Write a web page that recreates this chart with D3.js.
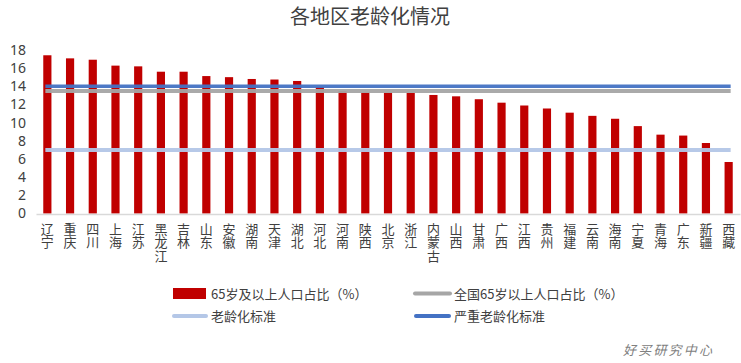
<!DOCTYPE html>
<html>
<head>
<meta charset="utf-8">
<script src="https://cdnjs.cloudflare.com/ajax/libs/d3/7.8.5/d3.min.js"></script>
<style>
  body { margin: 0; background: #fff; }
  text { font-family: "Noto Sans CJK SC", "Microsoft YaHei", sans-serif; }
</style>
</head>
<body>
<div id="chart"></div>
<script>
// Data (2020 census share of people aged 65+)
var provinces = ["辽宁", "重庆", "四川", "上海", "江苏", "黑龙江", "吉林", "山东", "安徽", "湖南",
    "天津", "湖北", "河北", "河南", "陕西", "北京", "浙江", "内蒙古", "山西", "甘肃", "广西",
    "江西", "贵州", "福建", "云南", "海南", "宁夏", "青海", "广东", "新疆", "西藏"];
var share65 = [17.42, 17.08, 16.93, 16.28, 16.20, 15.61, 15.61, 15.13, 15.01, 14.81,
    14.75, 14.59, 13.92, 13.49, 13.32, 13.30, 13.27, 13.05, 12.90, 12.58, 12.20,
    11.89, 11.56, 11.10, 10.75, 10.43, 9.62, 8.68, 8.58, 7.76, 5.67];
var nationalShare = 13.5;
var agingStandard = 7;
var severeStandard = 14;
var yTicks = [0, 2, 4, 6, 8, 10, 12, 14, 16, 18];

var svgWidth = 741;
var svgHeight = 363;

var svg = d3.select("#chart")
    .append("svg")
    .attr("width", svgWidth)
    .attr("height", svgHeight);

// Scales
var xScale = d3.scaleBand()
    .domain(provinces)
    .range([36, 740])
    .paddingInner(0.64)
    .paddingOuter(0.32);

var yScale = d3.scaleLinear()
    .domain([0, 18])
    .range([213.5, 50]);

// Title
svg.append("text")
    .attr("x", 370)
    .attr("y", 24)
    .attr("text-anchor", "middle")
    .attr("font-size", "20px")
    .attr("fill", "#404040")
    .text("各地区老龄化情况");

// Y axis (labels only)
var leftAxis = d3.axisLeft(yScale).tickValues(yTicks).tickSize(0).tickPadding(0);
var yAxisG = svg.append("g")
    .attr("transform", "translate(26, 0)")
    .call(leftAxis);
yAxisG.select(".domain").remove();
yAxisG.selectAll("text")
    .attr("font-size", "14px")
    .attr("fill", "#404040")
    .style("font-family", "'Noto Sans', 'DejaVu Sans', sans-serif");

// Bars
svg.selectAll(".bar")
    .data(share65)
    .enter()
    .append("rect")
    .attr("class", "bar")
    .attr("x", (d, i) => xScale(provinces[i]))
    .attr("y", d => yScale(d))
    .attr("width", xScale.bandwidth())
    .attr("height", d => yScale(0) - yScale(d))
    .attr("fill", "#c00000");

// X axis line
var bottomAxis = d3.axisBottom(xScale).tickSize(0).tickFormat("");
var xAxisG = svg.append("g")
    .attr("transform", `translate(0, ${yScale(0) + 0.5})`)
    .call(bottomAxis);
xAxisG.select(".domain").attr("stroke", "#d9d9d9").attr("stroke-width", 1.5);

// Vertical category labels, one character per line
var labels = svg.selectAll(".xlab")
    .data(provinces)
    .enter()
    .append("text")
    .attr("class", "xlab")
    .attr("font-size", "13px")
    .attr("fill", "#404040")
    .attr("text-anchor", "middle");
labels.each(function (name) {
    var cx = xScale(name) + xScale.bandwidth() / 2;
    var t = d3.select(this);
    name.split("").forEach(function (ch, k) {
        t.append("tspan")
            .attr("x", cx)
            .attr("y", 234 + k * 13.3)
            .text(ch);
    });
});

// Reference lines
var firstX = xScale(provinces[0]) + xScale.bandwidth() / 2;
var lastX = xScale(provinces[provinces.length - 1]) + xScale.bandwidth() / 2;
var refLines = [
    { v: agingStandard, color: "#b4c7e7", width: 4 },
    { v: nationalShare, color: "#a6a6a6", width: 4 },
    { v: severeStandard, color: "#4472c4", width: 3.5 }
];
refLines.forEach(function (r) {
    svg.append("line")
        .attr("x1", firstX - 2)
        .attr("x2", lastX + 2)
        .attr("y1", yScale(r.v))
        .attr("y2", yScale(r.v))
        .attr("stroke", r.color)
        .attr("stroke-width", r.width)
        .attr("opacity", 0.95);
});

// Legend
var legend = svg.append("g").attr("font-size", "13px").attr("fill", "#404040");
legend.append("rect")
    .attr("x", 173).attr("y", 288)
    .attr("width", 33).attr("height", 11)
    .attr("fill", "#c00000");
legend.append("text").attr("x", 211).attr("y", 299).text("65岁及以上人口占比（%）");

legend.append("line")
    .attr("x1", 415).attr("x2", 450).attr("y1", 293.5).attr("y2", 293.5)
    .attr("stroke", "#a6a6a6").attr("stroke-width", 4).attr("stroke-linecap", "round");
legend.append("text").attr("x", 454).attr("y", 299).text("全国65岁以上人口占比（%）");

legend.append("line")
    .attr("x1", 174).attr("x2", 206).attr("y1", 316).attr("y2", 316)
    .attr("stroke", "#b4c7e7").attr("stroke-width", 4).attr("stroke-linecap", "round");
legend.append("text").attr("x", 211).attr("y", 321).text("老龄化标准");

legend.append("line")
    .attr("x1", 416).attr("x2", 449).attr("y1", 316).attr("y2", 316)
    .attr("stroke", "#4472c4").attr("stroke-width", 4).attr("stroke-linecap", "round");
legend.append("text").attr("x", 454).attr("y", 321).text("严重老龄化标准");

// Watermark
svg.append("text")
    .attr("x", 623)
    .attr("y", 355)
    .attr("font-size", "13px")
    .attr("font-style", "italic")
    .attr("fill", "#808080")
    .attr("letter-spacing", "2.2px")
    .text("好买研究中心");
</script>
</body>
</html>
